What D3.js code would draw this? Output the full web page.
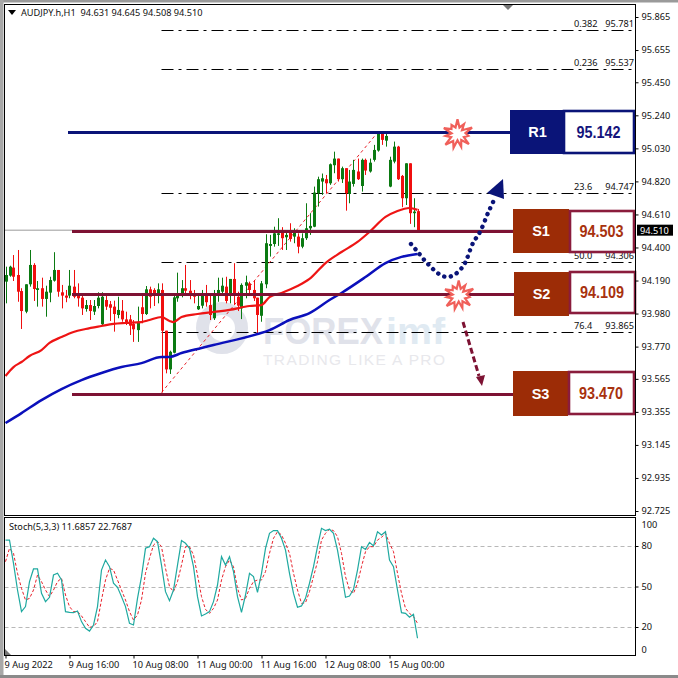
<!DOCTYPE html>
<html><head><meta charset="utf-8">
<style>html,body{margin:0;padding:0;background:#fff}svg{display:block}text{font-family:"Noto Sans",Arial,sans-serif}</style>
<script src="https://cdn.jsdelivr.net/npm/d3@7/dist/d3.min.js"></script>
</head><body><div id="c"></div>
<script>
const opens=[94.183,94.221,94.272,94.225,94.123,93.992,94.166,94.289,94.130,94.141,94.073,94.113,94.189,94.257,94.115,94.094,94.094,94.151,94.098,94.081,94.009,94.034,93.992,94.028,93.912,94.066,94.039,94.024,93.971,93.998,93.943,93.943,93.914,93.875,94.020,93.977,94.134,94.130,94.092,94.130,93.871,93.625,93.731,94.077,94.098,94.141,94.125,94.098,94.007,94.030,94.109,94.034,93.950,94.109,94.119,94.151,94.102,94.200,94.087,94.013,94.157,94.172,94.130,94.081,93.966,94.166,94.410,94.422,94.480,94.501,94.465,94.501,94.469,94.469,94.405,94.459,94.522,94.532,94.745,94.819,94.834,94.808,94.923,94.965,94.834,94.904,94.740,94.804,94.883,94.791,94.957,94.883,94.957,95.016,95.122,95.079,94.787,94.946,95.041,94.855,94.713,94.935,94.618,94.631];
const highs=[94.278,94.284,94.352,94.384,94.141,94.166,94.384,94.300,94.187,94.208,94.157,94.214,94.370,94.257,94.162,94.130,94.257,94.257,94.172,94.098,94.066,94.066,94.066,94.115,94.115,94.098,94.060,94.062,94.087,94.066,93.992,93.971,93.939,94.024,94.109,94.155,94.151,94.141,94.172,94.172,93.871,93.744,94.109,94.240,94.193,94.289,94.193,94.130,94.109,94.130,94.162,94.109,94.130,94.208,94.208,94.214,94.200,94.300,94.119,94.172,94.221,94.183,94.193,94.081,94.187,94.484,94.480,94.532,94.586,94.529,94.501,94.554,94.522,94.490,94.490,94.681,94.618,94.787,94.850,94.870,94.861,94.934,95.009,94.965,94.914,94.904,94.893,94.957,94.965,94.965,94.965,94.965,95.052,95.130,95.130,95.122,94.977,95.073,95.046,94.861,94.935,94.935,94.713,94.645];
const lows=[94.045,94.214,94.187,94.055,93.882,93.982,94.151,94.060,94.024,94.024,93.960,94.052,94.183,94.087,94.013,94.052,94.077,94.077,94.024,93.971,93.992,93.939,93.971,94.013,93.907,94.003,93.933,93.865,93.950,93.928,93.907,93.844,93.800,93.800,93.918,93.971,94.013,94.028,94.045,93.478,93.600,93.596,93.727,94.055,94.083,94.098,94.071,94.045,94.003,94.013,94.024,93.939,93.939,94.055,94.109,94.045,94.045,94.034,93.996,93.945,94.077,94.102,94.060,93.854,93.928,94.141,94.342,94.405,94.410,94.384,94.384,94.437,94.427,94.363,94.395,94.448,94.480,94.529,94.660,94.734,94.745,94.798,94.872,94.819,94.810,94.634,94.681,94.787,94.829,94.755,94.861,94.876,94.946,95.009,95.052,95.041,94.783,94.935,94.829,94.656,94.670,94.550,94.529,94.508];
const closes=[94.225,94.278,94.214,94.119,93.996,94.166,94.289,94.136,94.141,94.073,94.119,94.193,94.257,94.119,94.094,94.081,94.157,94.087,94.077,94.013,94.034,93.996,94.028,94.081,94.087,94.024,94.017,93.977,94.003,93.943,93.922,93.903,93.880,93.928,93.977,94.134,94.087,94.092,94.134,93.871,93.625,93.737,94.083,94.098,94.141,94.125,94.098,94.087,94.028,94.109,94.052,93.971,94.109,94.130,94.157,94.060,94.200,94.098,94.030,94.162,94.179,94.130,94.077,93.971,94.172,94.427,94.422,94.490,94.490,94.459,94.480,94.454,94.501,94.405,94.459,94.522,94.537,94.749,94.834,94.840,94.808,94.929,94.965,94.834,94.904,94.745,94.819,94.893,94.834,94.957,94.889,94.939,95.020,95.122,95.084,95.109,94.957,95.041,94.834,94.713,94.935,94.618,94.628,94.510];

const maRedBars=[0,2,4,6,9,11,14,17,20,24,27,30,34,36,39,41,42,44,48,52,56,61,64,66,69,73,76,80,84,88,91,95,98,101,103];
const maRedValues=[93.583,93.640,93.672,93.710,93.748,93.793,93.831,93.863,93.882,93.901,93.914,93.920,93.926,93.939,93.958,93.933,93.926,93.958,93.977,93.990,94.003,94.028,94.034,94.085,94.111,94.155,94.200,94.301,94.371,94.435,94.499,94.594,94.632,94.651,94.639];
const maBlueBars=[0,4,9,14,19,24,29,34,39,41,44,49,52,63,66,71,76,81,84,90,95,99,103];
const maBlueValues=[93.284,93.347,93.430,93.500,93.557,93.602,93.640,93.665,93.704,93.704,93.729,93.761,93.780,93.850,93.875,93.939,93.983,94.066,94.111,94.212,94.301,94.340,94.359];

const stochMain=[84.4,84.4,67.2,47.4,31.4,35.1,53.6,63.0,63.0,44.9,38.8,42.0,58.5,59.8,54.8,31.4,30.9,30.6,31.9,24.0,19.0,17.0,21.5,35.1,62.2,69.6,64.7,52.4,49.4,42.5,35.1,22.7,21.5,41.2,57.3,78.3,79.5,85.7,83.2,65.9,46.2,39.5,47.4,65.9,84.0,82.0,78.3,64.7,42.5,28.2,29.6,31.4,38.8,51.1,72.1,65.9,72.1,61.0,42.5,30.9,43.7,59.8,57.3,45.7,59.8,78.3,89.4,91.4,91.4,85.7,77.0,59.8,44.9,34.6,35.6,41.2,52.4,64.7,79.5,93.1,91.4,92.4,89.4,77.0,59.8,42.0,43.0,47.9,62.2,79.5,77.5,82.7,80.0,90.6,88.2,90.6,69.6,64.7,47.4,30.6,30.1,27.2,29.4,11.6857];
const stochSignal=[68.4,78.3,74.6,59.8,48.6,40.0,41.2,47.4,58.5,53.6,47.4,42.5,47.4,53.6,56.1,43.7,35.1,31.4,31.4,28.2,24.0,19.8,20.3,24.0,40.0,54.8,63.5,62.2,54.8,47.4,40.0,31.4,25.2,28.9,40.0,59.8,70.9,80.7,83.2,79.5,63.5,49.9,46.2,53.6,65.9,79.5,79.5,73.3,58.5,42.5,33.1,30.1,33.8,40.0,54.8,64.7,69.6,64.7,48.6,40.0,41.2,48.6,53.6,54.8,54.8,61.0,74.6,85.7,90.6,88.2,82.0,74.6,59.8,47.4,37.5,38.0,46.2,57.3,68.4,84.4,89.4,92.4,91.4,86.9,74.6,57.3,47.4,44.9,52.4,64.7,75.8,79.5,79.5,84.4,86.4,89.4,82.0,75.8,59.8,44.9,33.8,30.1,27.7,22.7687];

const priceTicks=[95.865,95.655,95.450,95.240,95.030,94.820,94.610,94.400,94.190,93.980,93.770,93.565,93.355,93.145,92.935,92.725];
const stochLevels=[20,50,80];
const stochTicks=[100,80,50,20,0];
const timeBars=[0,16,32,48,64,80,96];
const timeLabels=["9 Aug 2022","9 Aug 16:00","10 Aug 08:00","11 Aug 00:00","11 Aug 16:00","12 Aug 08:00","15 Aug 00:00"];
const fiboRatios=["0.382","0.236","23.6","50.0","76.4"];
const fiboPrices=[95.781,95.537,94.747,94.306,93.865];
const levelNames=["R1","S1","S2","S3"];
const levelPrices=[95.142,94.503,94.109,93.470];
const levelDrawn=[95.135,94.503,94.105,93.470];
const lastPrice=94.510;

const W=678,H=678,FS=9.2;
const NAVY="#0a1478",MAROON="#7d1233",BRICK="#9c2c06";
const fx0=4.5,fx1=635.5,fy0=4.5,fy1=515.5,sy0=517.5,sy1=655.5;
const svg=d3.select("#c").append("svg").attr("width",W).attr("height",H).attr("viewBox",`0 0 ${W} ${H}`);

const x=d3.scaleLinear().domain([0,103]).range([5.5,417.5]);
const y=d3.scaleLinear().domain([92.725,95.865]).range([511,17]);
const ys=d3.scaleLinear().domain([0,100]).range([654,519]);

// window chrome
svg.append("rect").attr("width",W).attr("height",2.5).attr("fill","#9a9a9a");
svg.append("rect").attr("width",3.5).attr("height",H).attr("fill","#a8a8a8");
svg.append("rect").attr("y",675).attr("width",W).attr("height",3).attr("fill","#8a8a8a");

// watermark
const wm=svg.append("g");
wm.append("circle").attr("cx",222).attr("cy",328).attr("r",19.5).attr("fill","none").attr("stroke","#e0e2ea").attr("stroke-width",13);
wm.append("text").attr("x",263).attr("y",344).attr("font-size",36).attr("font-weight",700).attr("fill","#e0e2ea").attr("textLength",120).attr("lengthAdjust","spacingAndGlyphs").style("font-family","Liberation Sans").text("FOREX");
wm.append("text").attr("x",386).attr("y",344).attr("font-size",36).attr("font-weight",700).attr("fill","#e0eaf2").attr("textLength",59).attr("lengthAdjust","spacingAndGlyphs").style("font-family","Liberation Sans").text("imf");
wm.append("text").attr("x",263).attr("y",365).attr("font-size",15.5).attr("fill","#e8e8ec").attr("textLength",182).style("font-family","Liberation Sans").text("TRADING LIKE A PRO");

// last price line
svg.append("line").attr("x1",fx0).attr("x2",fx1).attr("y1",y(lastPrice)).attr("y2",y(lastPrice)).attr("stroke","#9a9a9a").attr("stroke-width",1);

// fibo levels
const fiboG=svg.append("g");
fiboG.selectAll("line").data(fiboPrices).join("line")
 .attr("x1",x(39)).attr("x2",fx1-1).attr("y1",d=>Math.round(y(d))+.5).attr("y2",d=>Math.round(y(d))+.5)
 .attr("stroke","#000").attr("stroke-width",1).attr("stroke-dasharray","12 5 3 5");
fiboG.selectAll("text.r").data(fiboRatios).join("text").attr("class","r").attr("x",574)
 .attr("y",(d,i)=>Math.round(y(fiboPrices[i]))-3).attr("font-size",FS).attr("fill","#111").text(d=>d);
fiboG.selectAll("text.p").data(fiboPrices).join("text").attr("class","p").attr("x",634).attr("text-anchor","end")
 .attr("y",d=>Math.round(y(d))-3).attr("font-size",FS).attr("fill","#111").text(d=>d3.format(".3f")(d));

// fibo trend line
svg.append("line").attr("x1",x(39)).attr("y1",y(lows[39])).attr("x2",x(93)).attr("y2",y(highs[93]))
 .attr("stroke","#e8222a").attr("stroke-width",1).attr("stroke-dasharray","3 3");

// candles
const idx=d3.range(opens.length);
const col=i=>closes[i]>=opens[i]?"#0b7a12":"#f00f0f";
const cg=svg.append("g");
cg.selectAll("line").data(idx).join("line").attr("x1",i=>Math.round(x(i))+.5).attr("x2",i=>Math.round(x(i))+.5)
 .attr("y1",i=>y(highs[i])).attr("y2",i=>y(lows[i])).attr("stroke",col).attr("stroke-width",1);
cg.selectAll("rect").data(idx).join("rect").attr("x",i=>Math.round(x(i))-1).attr("width",3)
 .attr("y",i=>y(Math.max(opens[i],closes[i]))).attr("height",i=>Math.max(1,Math.abs(y(opens[i])-y(closes[i])))).attr("fill",col);

// moving averages
const line=d3.line().x(d=>x(d[0])).y(d=>y(d[1])).curve(d3.curveMonotoneX);
svg.append("path").attr("d",line(d3.zip(maRedBars,maRedValues))).attr("fill","none").attr("stroke","#ee1414").attr("stroke-width",2.2);
svg.append("path").attr("d",line(d3.zip(maBlueBars,maBlueValues))).attr("fill","none").attr("stroke","#0b10bb").attr("stroke-width",2.5);

// level lines and boxes
const lineStart=[68,72,72,72],lineEnd=[510,513,514,513];
const lblBox=[[510,565,110,154],[513,569,209,253],[514,569,272,316],[513,568,371,416]];
const valBox=[[564,634,111,153],[570,634,211,252],[570,635,272,313],[569,634,372,414]];
const lv=svg.append("g");
levelDrawn.forEach((p,i)=>{
  const c=i?MAROON:NAVY, ly=Math.round(y(p))+.5;
  lv.append("line").attr("x1",lineStart[i]).attr("x2",lineEnd[i]).attr("y1",ly).attr("y2",ly).attr("stroke",c).attr("stroke-width",3);
  const a=lblBox[i],b=valBox[i];
  lv.append("rect").attr("x",a[0]).attr("y",a[2]).attr("width",a[1]-a[0]).attr("height",a[3]-a[2]).attr("fill",i?BRICK:NAVY);
  lv.append("rect").attr("x",b[0]).attr("y",b[2]).attr("width",b[1]-b[0]).attr("height",b[3]-b[2]).attr("fill","#fff").attr("stroke",i?"#8a1c3c":NAVY).attr("stroke-width",2.6);
  lv.append("text").attr("x",(a[0]+a[1])/2).attr("y",(a[2]+a[3])/2+5).attr("text-anchor","middle").attr("fill","#fff").attr("font-size",14.5).attr("font-weight",700).style("font-family","Liberation Sans").text(levelNames[i]);
  lv.append("text").attr("x",(b[0]+b[1])/2-.5).attr("y",(b[2]+b[3])/2+5.5).attr("text-anchor","middle").attr("fill",i?"#a8320e":"#14147c").attr("font-size",16).attr("font-weight",700).attr("textLength",44).attr("lengthAdjust","spacingAndGlyphs").style("font-family","Liberation Sans").text(d3.format(".3f")(levelPrices[i]));
});

// starbursts
const burstR=[15,7,12,6,16,8,11,7,15,7,13,6,14,8,16,7,12,6,15,8,11,7];
const burst=d3.lineRadial().angle((d,i)=>i/burstR.length*2*Math.PI).radius(d=>d).curve(d3.curveLinearClosed);
[[x(113),y(95.12)],[x(113.3),y(94.095)]].forEach(p=>{
  svg.append("path").attr("transform",`translate(${p[0]},${p[1]})`).attr("d",burst(burstR)).attr("fill","#fff").attr("stroke","#f0605a").attr("stroke-width",2.2);
});

// hand drawn arrows
const curve=d3.line().curve(d3.curveCatmullRom);
const blueArrowPath=[[411,244],[417,251],[427,263],[439,274],[447,277],[454,275],[460,270],[465,263],[473,243],[480,232],[488,213],[494,200]];
svg.append("path").attr("d",curve(blueArrowPath)).attr("fill","none").attr("stroke",NAVY).attr("stroke-width",4.4).attr("stroke-linecap","round").attr("stroke-dasharray","0.1 6.6");
svg.append("path").attr("d","M503,179L487,193L504,199Z").attr("fill",NAVY);
svg.append("line").attr("x1",463).attr("y1",322).attr("x2",479).attr("y2",376).attr("stroke",MAROON).attr("stroke-width",3).attr("stroke-dasharray","6 3");
svg.append("path").attr("d","M482,386L476,377L485,375Z").attr("fill",MAROON);

// stochastic
svg.append("g").selectAll("line").data(stochLevels).join("line").attr("x1",fx0).attr("x2",fx1)
 .attr("y1",d=>Math.round(ys(d))+.5).attr("y2",d=>Math.round(ys(d))+.5).attr("stroke","#b8b8b8").attr("stroke-dasharray","4 3");
const sl=d3.line().x((d,i)=>x(i)).y(d=>ys(d));
svg.append("path").attr("d",sl(stochSignal)).attr("fill","none").attr("stroke","#e8202a").attr("stroke-width",1).attr("stroke-dasharray","3 2");
svg.append("path").attr("d",sl(stochMain)).attr("fill","none").attr("stroke","#1fa9a0").attr("stroke-width",1.2);

// frames
svg.append("rect").attr("x",fx0).attr("y",fy0).attr("width",fx1-fx0).attr("height",fy1-fy0).attr("fill","none").attr("stroke","#000");
svg.append("rect").attr("x",fx0).attr("y",sy0).attr("width",fx1-fx0).attr("height",sy1-sy0).attr("fill","none").attr("stroke","#000");

// axes
const ax=svg.append("g").attr("transform",`translate(${fx1},0)`)
 .call(d3.axisRight(y).tickValues(priceTicks).tickFormat(d3.format(".3f")).tickSize(3).tickPadding(3));
ax.select(".domain").remove();
ax.selectAll("text").attr("font-size",FS).attr("fill","#111").style("font-family",'"Noto Sans"');
const axs=svg.append("g").attr("transform",`translate(${fx1},0)`)
 .call(d3.axisRight(ys).tickValues(stochTicks).tickSize(3).tickPadding(3));
axs.select(".domain").remove();
axs.selectAll("text").attr("font-size",FS).attr("fill","#111").style("font-family",'"Noto Sans"')
 .attr("dy",d=>d==100?"0.9em":d==0?"-0.15em":"0.32em");
axs.selectAll("line").filter(d=>d==100||d==0).remove();

const axb=svg.append("g").attr("transform",`translate(0,${sy1})`)
 .call(d3.axisBottom(x).tickValues(timeBars).tickFormat((d,i)=>timeLabels[i]).tickSize(3).tickPadding(3));
axb.select(".domain").remove();
axb.selectAll("text").attr("font-size",FS).attr("fill","#111").attr("text-anchor","start").attr("dx",-1.5).style("font-family",'"Noto Sans"');

// price tag
svg.append("rect").attr("x",637).attr("y",y(lastPrice)-5.5).attr("width",36).attr("height",11).attr("fill","#000");
svg.append("text").attr("x",640).attr("y",y(lastPrice)+3.4).attr("fill","#fff").attr("font-size",FS).text(d3.format(".3f")(lastPrice));

// title and small markers
svg.append("path").attr("d","M8,10L16,10L12,15Z").attr("fill","#000");
svg.append("text").attr("x",21).attr("y",16).attr("font-size",FS).attr("fill","#111").style("white-space","pre").text("AUDJPY.h,H1  94.631 94.645 94.508 94.510");
svg.append("text").attr("x",9).attr("y",530).attr("font-size",FS).attr("fill","#111").text("Stoch(5,3,3) 11.6857 22.7687");
svg.append("path").attr("d","M503,5L513,5L508,10Z").attr("fill","#777");
svg.append("path").attr("d","M5,655L5,649L11,655Z").attr("fill","#777");
</script></body></html>
